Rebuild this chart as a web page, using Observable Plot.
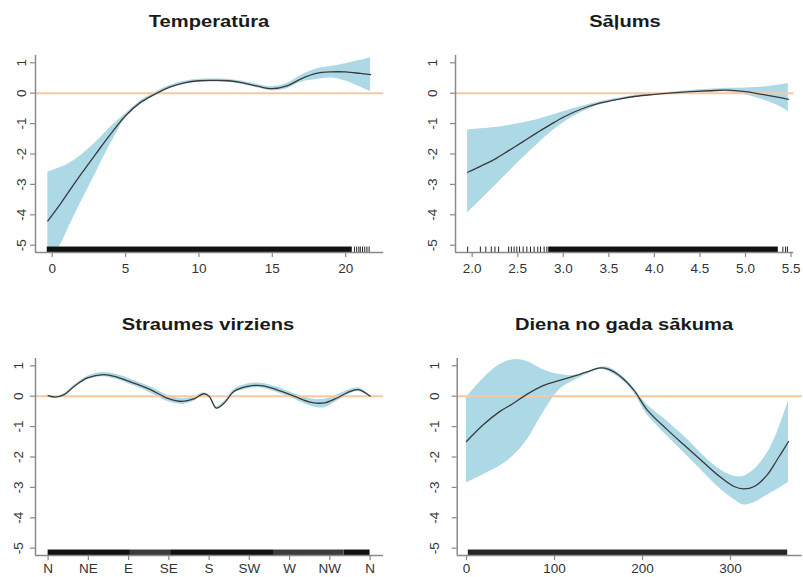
<!DOCTYPE html>
<html><head><meta charset="utf-8">
<script src="https://cdn.jsdelivr.net/npm/d3@7"></script>
<script src="https://cdn.jsdelivr.net/npm/@observablehq/plot@0.6"></script>
<style>
body{margin:0;background:#fff;}
#chart{position:relative;width:803px;height:577px;overflow:hidden;font-family:"Liberation Sans",Arial,sans-serif;background:#fff;}
.panel{position:absolute;}
.title{position:absolute;font-weight:bold;font-size:16.5px;line-height:16.5px;white-space:nowrap;color:#1a1a1a;transform:translateX(-50%) scaleX(1.22);}
</style></head><body><div id="chart"></div>
<script>
// ---------- shared y axis ----------
const yTicks = [1, 0, -1, -2, -3, -4, -5];
const yDomain = [-5.24, 1.24];

// ---------- Panel 1: Temperatūra ----------
const tempTitle = "Temperatūra";
const tempTicks = [0, 5, 10, 15, 20];
const tempTickLabels = ["0", "5", "10", "15", "20"];
const tempX = [-0.3, 0.5, 1, 2, 3, 4, 5, 6, 7, 8, 9, 10, 11, 12, 13, 14, 15, 16, 17, 18, 19, 20, 21, 21.7];
const tempFit = [-4.2, -3.68, -3.33, -2.64, -1.98, -1.33, -0.74, -0.31, -0.03, 0.2, 0.34, 0.41, 0.42, 0.41, 0.34, 0.23, 0.15, 0.24, 0.48, 0.65, 0.7, 0.7, 0.65, 0.61];
const tempUpper = [-2.6, -2.45, -2.35, -2.03, -1.6, -1.1, -0.68, -0.26, 0.02, 0.25, 0.39, 0.46, 0.47, 0.46, 0.39, 0.29, 0.22, 0.32, 0.6, 0.8, 0.88, 0.97, 1.08, 1.17];
const tempLower = [-5.6, -5.05, -4.55, -3.55, -2.6, -1.65, -0.82, -0.37, -0.08, 0.15, 0.29, 0.36, 0.37, 0.36, 0.29, 0.17, 0.08, 0.15, 0.37, 0.45, 0.5, 0.4, 0.2, 0.05];
const tempRugDense = [[-0.34, 20.45]];
const tempRugSparse = [];
const tempRugTicks = [20.6, 20.75, 20.9, 21.0, 21.15, 21.3, 21.45, 21.6];

// ---------- Panel 2: Sāļums ----------
const salTitle = "Sāļums";
const salTicks = [2.0, 2.5, 3.0, 3.5, 4.0, 4.5, 5.0, 5.5];
const salTickLabels = ["2.0", "2.5", "3.0", "3.5", "4.0", "4.5", "5.0", "5.5"];
const salX = [1.95, 2.1, 2.25, 2.4, 2.55, 2.7, 2.85, 3.0, 3.2, 3.4, 3.6, 3.8, 4.0, 4.2, 4.4, 4.6, 4.8, 5.0, 5.2, 5.35, 5.47];
const salFit = [-2.6, -2.39, -2.17, -1.89, -1.61, -1.32, -1.05, -0.79, -0.52, -0.33, -0.2, -0.1, -0.04, 0.01, 0.05, 0.08, 0.1, 0.05, -0.05, -0.13, -0.2];
const salUpper = [-1.21, -1.17, -1.13, -1.06, -0.98, -0.88, -0.75, -0.61, -0.44, -0.28, -0.17, -0.07, -0.01, 0.04, 0.09, 0.13, 0.16, 0.17, 0.2, 0.26, 0.32];
const salLower = [-3.94, -3.5, -3.05, -2.6, -2.15, -1.73, -1.32, -0.98, -0.63, -0.39, -0.24, -0.13, -0.07, -0.02, 0.01, 0.03, 0.04, -0.06, -0.22, -0.4, -0.61];
const salRugDense = [[2.84, 5.36]];
const salRugSparse = [];
const salRugTicks = [1.95, 2.09, 2.15, 2.21, 2.25, 2.29, 2.4, 2.43, 2.46, 2.49, 2.52, 2.56, 2.6, 2.64, 2.68, 2.72, 2.75, 2.79, 2.82, 5.41, 5.44, 5.46];

// ---------- Panel 3: Straumes virziens ----------
const dirTitle = "Straumes virziens";
const dirTicks = [0, 45, 90, 135, 180, 225, 270, 315, 360];
const dirTickLabels = ["N", "NE", "E", "SE", "S", "SW", "W", "NW", "N"];
const dirX = [0, 8, 18, 29, 44, 62, 77, 96, 115, 133, 150, 163, 174, 180, 188, 197, 208, 223, 238, 256, 275, 294, 309, 323, 338, 348, 360];
const dirFit = [0.02, -0.03, 0.05, 0.32, 0.6, 0.71, 0.63, 0.43, 0.21, -0.06, -0.17, -0.09, 0.08, 0, -0.39, -0.22, 0.16, 0.32, 0.35, 0.21, 0, -0.2, -0.22, -0.06, 0.16, 0.21, 0];
const dirUpper = [0.04, 0.0, 0.08, 0.36, 0.66, 0.78, 0.71, 0.52, 0.3, 0.04, -0.08, -0.02, 0.11, 0.03, -0.35, -0.17, 0.22, 0.4, 0.43, 0.3, 0.08, -0.08, -0.1, 0.04, 0.23, 0.27, 0.02];
const dirLower = [0.0, -0.06, 0.02, 0.28, 0.54, 0.64, 0.55, 0.34, 0.1, -0.17, -0.27, -0.17, 0.04, -0.03, -0.43, -0.27, 0.1, 0.24, 0.27, 0.12, -0.09, -0.33, -0.38, -0.17, 0.09, 0.15, -0.02];
const dirRugDense = [[0, 92], [137, 252], [331, 360]];
const dirRugSparse = [[92, 137], [252, 331]];
const dirRugTicks = [];

// ---------- Panel 4: Diena no gada sākuma ----------
const dayTitle = "Diena no gada sākuma";
const dayTicks = [0, 100, 200, 300];
const dayTickLabels = ["0", "100", "200", "300"];
const dayX = [0, 19, 38, 53, 69, 87, 106, 121, 136, 152, 161, 175, 190, 205, 228, 247, 266, 285, 304, 315, 327, 342, 353, 366];
const dayFit = [-1.49, -0.94, -0.5, -0.24, 0.07, 0.35, 0.52, 0.65, 0.79, 0.93, 0.89, 0.65, 0.21, -0.44, -1.1, -1.6, -2.09, -2.58, -2.97, -3.05, -2.97, -2.58, -2.09, -1.49];
const dayUpper = [-0.05, 0.58, 1.04, 1.2, 1.14, 0.87, 0.71, 0.68, 0.78, 0.95, 0.95, 0.71, 0.27, -0.27, -0.82, -1.31, -1.86, -2.35, -2.63, -2.63, -2.41, -1.86, -1.2, -0.16];
const dayLower = [-2.85, -2.58, -2.3, -1.97, -1.43, -0.55, 0.22, 0.49, 0.71, 0.88, 0.82, 0.57, 0.11, -0.6, -1.31, -1.86, -2.41, -2.96, -3.4, -3.58, -3.5, -3.25, -3.07, -2.83];
const dayRugDense = [];
const dayRugSparse = [[2, 365]];
const dayRugTicks = [];

// ---------- styling ----------
const bandColor = "#ADD8E6";
const zeroColor = "#F8C8A0";
const fitColor = "#3a3a3a";
const axisColor = "#8a8a8a";
const labelColor = "#333";
const rugTop = -5.06;

function panel(cfg) {
  const [x0, x1] = cfg.xDomain;
  const [y0, y1] = yDomain;
  const fw = cfg.width - cfg.ml - cfg.mr;
  const fh = cfg.height - cfg.mt - cfg.mb;
  const ppx = fw / (x1 - x0), ppy = fh / (y1 - y0);
  const band = cfg.x.map((x, i) => ({x, lo: cfg.lower[i], hi: cfg.upper[i]}));
  const fit = cfg.x.map((x, i) => ({x, y: cfg.fit[i]}));
  const svg = Plot.plot({
    width: cfg.width, height: cfg.height,
    marginTop: cfg.mt, marginRight: cfg.mr, marginBottom: cfg.mb, marginLeft: cfg.ml,
    x: {domain: cfg.xDomain, axis: null},
    y: {domain: yDomain, axis: null},
    style: {background: "transparent", fontFamily: "Liberation Sans, Arial, sans-serif", overflow: "visible"},
    marks: [
      Plot.areaY(band, {x: "x", y1: "lo", y2: "hi", fill: bandColor, curve: "catmull-rom", clip: true}),
      Plot.ruleY([0], {stroke: zeroColor, strokeWidth: 2}),
      Plot.line(fit, {x: "x", y: "y", stroke: fitColor, strokeWidth: 1.3, curve: "catmull-rom"}),
      Plot.rect(cfg.rugDense, {x1: d => d[0], x2: d => d[1], y1: y0, y2: rugTop, fill: "#111"}),
      Plot.rect(cfg.rugSparse, {x1: d => d[0], x2: d => d[1], y1: y0, y2: rugTop, fill: cfg.sparseFill}),
      Plot.ruleX(cfg.rugTicks, {x: d => d, y1: y0, y2: rugTop, stroke: "#222", strokeWidth: 1}),
      Plot.ruleY([y0], {stroke: axisColor, strokeWidth: 1.5}),
      Plot.ruleX([x0], {stroke: axisColor, strokeWidth: 1.5}),
      Plot.ruleX(cfg.ticks, {x: d => d, y1: y0, y2: y0 - 5 / ppy, stroke: axisColor, strokeWidth: 1.2}),
      Plot.text(cfg.ticks, {x: d => d, y: y0, dy: cfg.xLabDy, text: (d, i) => cfg.tickLabels[i], fontSize: 13.5, fill: labelColor}),
      Plot.ruleY(yTicks, {y: d => d, x1: x0, x2: x0 - 5 / ppx, stroke: axisColor, strokeWidth: 1.2}),
      Plot.text(yTicks, {x: x0 - cfg.yLabOff / ppx, y: d => d, text: d => String(d), rotate: -90, fontSize: 13.5, fill: labelColor})
    ]
  });
  const wrap = document.createElement("div");
  wrap.className = "panel";
  wrap.style.left = cfg.left + "px";
  wrap.style.top = cfg.top + "px";
  wrap.appendChild(svg);
  const chart = document.getElementById("chart");
  chart.appendChild(wrap);
  const t = document.createElement("div");
  t.className = "title";
  t.textContent = cfg.title;
  t.style.left = cfg.titleX + "px";
  t.style.top = cfg.titleY + "px";
  chart.appendChild(t);
}

panel({title: tempTitle, titleX: 209, titleY: 13, left: 0, top: 0, width: 400, height: 290,
  mt: 55, mr: 16.7, mb: 38, ml: 35, xDomain: [-1.14, 22.6], yLabOff: 14.3, xLabDy: 16.5,
  ticks: tempTicks, tickLabels: tempTickLabels, x: tempX, fit: tempFit, upper: tempUpper, lower: tempLower,
  rugDense: tempRugDense, rugSparse: tempRugSparse, rugTicks: tempRugTicks, sparseFill: "#333"});

panel({title: salTitle, titleX: 625, titleY: 13, left: 400, top: 0, width: 403, height: 290,
  mt: 55, mr: 9.7, mb: 38, ml: 55, xDomain: [1.817, 5.53], yLabOff: 22.5, xLabDy: 16.5,
  ticks: salTicks, tickLabels: salTickLabels, x: salX, fit: salFit, upper: salUpper, lower: salLower,
  rugDense: salRugDense, rugSparse: salRugSparse, rugTicks: salRugTicks, sparseFill: "#333"});

panel({title: dirTitle, titleX: 208, titleY: 316, left: 0, top: 290, width: 400, height: 287,
  mt: 68, mr: 17, mb: 22, ml: 35, xDomain: [-14.1, 375], yLabOff: 16.5, xLabDy: 13.5,
  ticks: dirTicks, tickLabels: dirTickLabels, x: dirX, fit: dirFit, upper: dirUpper, lower: dirLower,
  rugDense: dirRugDense, rugSparse: dirRugSparse, rugTicks: dirRugTicks, sparseFill: "#3c3c3c"});

panel({title: dayTitle, titleX: 624, titleY: 316, left: 400, top: 290, width: 403, height: 287,
  mt: 68, mr: 1.3, mb: 22, ml: 56.7, xDomain: [-10.6, 381.5], yLabOff: 23, xLabDy: 13.5,
  ticks: dayTicks, tickLabels: dayTickLabels, x: dayX, fit: dayFit, upper: dayUpper, lower: dayLower,
  rugDense: dayRugDense, rugSparse: dayRugSparse, rugTicks: dayRugTicks, sparseFill: "#262626"});
</script></body></html>
